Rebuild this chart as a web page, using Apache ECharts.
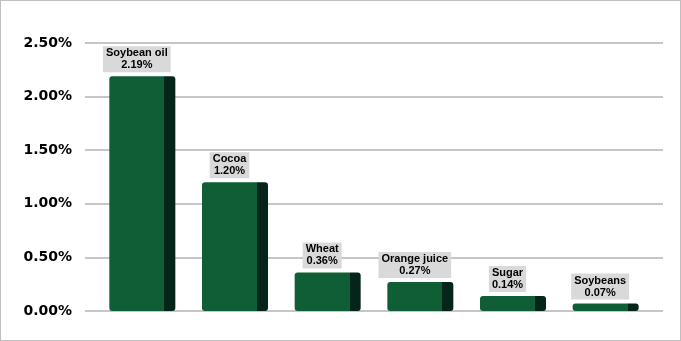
<!DOCTYPE html>
<html>
<head>
<meta charset="utf-8">
<script src="https://cdn.jsdelivr.net/npm/echarts@6/dist/echarts.min.js"></script>
<style>
html,body{margin:0;padding:0;background:#fff;}
#wrap{position:relative;width:681px;height:341px;}
#chart{width:681px;height:341px;}
#frame{position:absolute;left:0;top:0;width:681px;height:341px;box-sizing:border-box;border:1px solid #bfbfbf;pointer-events:none;}
</style>
</head>
<body>
<div id="wrap"><div id="chart"></div><div id="frame"></div></div>
<script>
const categories = ['Soybean oil', 'Cocoa', 'Wheat', 'Orange juice', 'Sugar', 'Soybeans'];
const values = [2.19, 1.20, 0.36, 0.27, 0.14, 0.07];
const yTicks = [0, 0.5, 1.0, 1.5, 2.0, 2.5];

const bodyColor = '#0f5e35';
const sideColor = '#06251a';
const chart = echarts.init(document.getElementById('chart'));
const fmt = v => v.toFixed(2) + '%';

chart.setOption({
  animation: false,
  grid: [
    {left: 85, right: 18, top: 43, bottom: 30},
    {left: 96, right: 29, top: 43, bottom: 30}
  ],
  xAxis: [
    {gridIndex: 0, type: 'category', data: categories, show: false},
    {gridIndex: 1, type: 'category', data: categories, show: false}
  ],
  yAxis: [
    {
      gridIndex: 0, type: 'value', min: yTicks[0], max: yTicks[yTicks.length - 1], interval: 0.5,
      axisLine: {show: false}, axisTick: {show: false},
      axisLabel: {formatter: v => fmt(v), fontFamily: 'DejaVu Sans', fontWeight: 'bold', fontSize: 14, color: '#000', margin: 13},
      splitLine: {lineStyle: {color: '#b3b3b3', width: 1.5}}
    },
    {gridIndex: 1, type: 'value', min: yTicks[0], max: yTicks[yTicks.length - 1], show: false, splitLine: {show: false}}
  ],
  series: [{
    type: 'bar',
    xAxisIndex: 1, yAxisIndex: 1,
    data: values,
    barWidth: 66,
    itemStyle: {
      borderRadius: 3,
      color: new echarts.graphic.LinearGradient(0, 0, 1, 0, [
        {offset: 0, color: bodyColor},
        {offset: 0.833, color: bodyColor},
        {offset: 0.833, color: sideColor},
        {offset: 1, color: sideColor}
      ])
    },
    label: {
      show: true,
      position: 'top',
      distance: 4,
      offset: [-5.5, 0],
      formatter: p => p.name + '\n' + fmt(p.value),
      fontFamily: 'Liberation Sans',
      fontWeight: 'bold',
      fontSize: 11,
      lineHeight: 12,
      color: '#000',
      backgroundColor: '#d9d9d9',
      padding: [1, 3, 1, 3],
      align: 'center'
    }
  }]
});
</script>
</body>
</html>
